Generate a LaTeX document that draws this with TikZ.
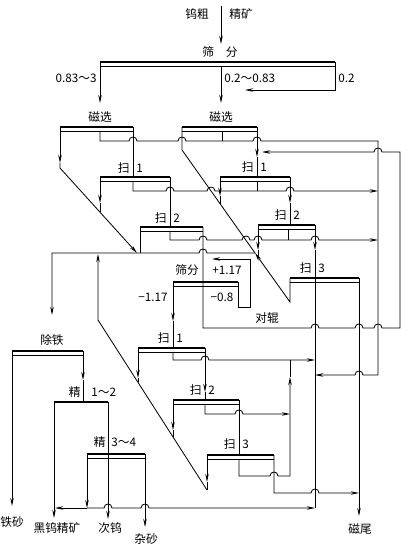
\documentclass[tikz,border=0pt]{standalone}
\usepackage{fontspec}
\newfontfamily\cjk{Noto Sans CJK SC}
\usetikzlibrary{arrows.meta}

\tikzset{
  flow/.style={line width=0.7pt},
  bar/.style={line width=1.6pt},
  arr/.style={-{Stealth[length=7pt,width=3pt]}},
  lbl/.style={font=\cjk\fontsize{10}{12}\selectfont, inner sep=0pt},
}
% hop over a vertical line (left to right / right to left)
\newcommand\hop[2]{-- (#1-4,#2) .. controls (#1-4,#2-5.3) and (#1+4,#2-5.3) .. (#1+4,#2)}
\newcommand\hopl[2]{-- (#1+4,#2) .. controls (#1+4,#2-5.3) and (#1-4,#2-5.3) .. (#1-4,#2)}
% separator: thick top bar and thin line below
\newcommand\sepbar[3]{\draw[bar] (#1,#3) -- (#2,#3); \draw (#1,#3+4) -- (#2,#3+4);}
% stage label split round its feed line
\newcommand\stagelbl[5]{\node[lbl,anchor=east] (#1a) at (#2-3,#3) {#4};
  \node[lbl,anchor=west] (#1b) at (#2+3,#3) {#5};}

\begin{document}
\begin{tikzpicture}[x=0.03cm,y=-0.03cm,flow]
\useasboundingbox (0,0) rectangle (413,548);

% Feed
\node[lbl] (feedA) at (197,14) {钨粗};
\node[lbl] (feedB) at (241,14) {精矿};
\draw[arr] (221,6) -- (221,44);

% Main screen
\node[lbl] (scr) at (220,52) {筛\hspace{1em}分};
\sepbar{100}{335}{62}
\draw[arr] (100,62) -- (100,103);
\draw[arr] (221,66) -- (221,103);
\draw[arr] (335,62) -- (335,90) -- (245,90);
\node[lbl,anchor=east] (fracA) at (97,78) {0.83～3};
\node[lbl,anchor=west] (fracB) at (224,78) {0.2～0.83};
\node[lbl,anchor=west] (fracC) at (338,78) {0.2};

% Magnetic separators
\node[lbl] (magL) at (100,117) {磁选};
\node[lbl] (magR) at (221,117) {磁选};
\sepbar{60}{133}{127}
\sepbar{182}{257}{127}
\draw[arr] (60,127) -- (60,163);
\draw[arr] (60,163) -- (60,168) -- (137,253);
\draw (182,127) -- (182,150) -- (255,253);
\draw (222,131) -- (222,141);
\draw (133,127) -- (133,177);
\draw[arr] (257,127) -- (257,157);
\draw (257,157) -- (257,177);
% tails to the right-hand collector
\draw[arr] (100,131) -- (100,141) \hop{133}{141} \hop{182}{141} \hop{257}{141}
  -- (378,141) -- (378,375) \hopl{359}{375} -- (315,375);

% Upper scavengers, left
\sepbar{100}{170}{177}
\stagelbl{sL1}{133}{168}{扫}{1}
\draw[arr] (100,177) -- (100,203);
\draw (100,203) -- (100,211.6);
\draw (257,181) -- (257,191);
\draw[arr] (133,181) -- (133,191) \hop{170}{191} \hop{211}{191} \hop{290}{191} -- (378,191);
\draw (170,177) -- (170,227);
\stagelbl{sL2}{170}{218}{扫}{2}
\sepbar{140}{203}{227}
\draw (140,227) -- (140,253);
\draw (288,229) -- (288,240);
\draw[arr] (170,231) -- (170,240) \hop{203}{240} \hop{246}{240} \hop{258}{240}
  \hop{315}{240} -- (378,240);

% Upper scavengers, right
\sepbar{220}{290}{177}
\stagelbl{sR1}{257}{167}{扫}{1}
\draw[arr] (220,177) -- (220,196);
\draw (220,196) -- (220,203.5);
\draw[arr] (290,177) -- (290,203);
\draw (290,203) -- (290,225);
\stagelbl{sR2}{290}{215}{扫}{2}
\sepbar{258}{315}{225}
\draw[arr] (258,225) -- (258,250);
\draw (258,250) -- (258,257);
\draw[arr] (315,225) -- (315,250);
\draw (315,250) -- (315,508);
\stagelbl{sR3}{315}{268}{扫}{3}
\sepbar{290}{359}{278}
\draw[arr] (290,278) -- (290,302) -- (255,253);
\draw[arr] (359,278) -- (359,516);
\node[lbl] (magT) at (360,529) {磁尾};

% Concentrate collector
\draw[arr] (255,253) \hopl{203}{253} -- (52,253) -- (52,315);

% Pair rolls and return
\draw[arr] (203,227) -- (203,328) \hop{315}{328} \hop{359}{328} \hop{378}{328}
  -- (400,328) -- (400,152) \hopl{378}{152} -- (262,152);
\node[lbl] (roll) at (267,318) {对辊};

% Small screen
\node[lbl] (scrS) at (187,270) {筛分};
\node[lbl] (plus) at (227,270) {+1.17};
\sepbar{173}{238}{282}
\draw[arr] (173,282) -- (173,321);
\draw (173,321) -- (173,348);
\node[lbl,anchor=east] (minA) at (168,297) {−1.17};
\node[lbl] (minB) at (222,297) {−0.8};
\draw[arr] (238,282) -- (238,307) -- (250,307) -- (250,259) -- (212,259);

% Lower scavengers
\sepbar{138}{205}{348}
\stagelbl{sD1}{173}{338}{扫}{1}
\draw[arr] (138,348) -- (138,378);
\draw (138,378) -- (138,382.4);
\draw[arr] (173,352) -- (173,360) \hop{205}{360} -- (315,360);
\draw[arr] (205,348) -- (205,392);
\draw (205,392) -- (205,400);
\stagelbl{sD2}{205}{390}{扫}{2}
\sepbar{173}{239}{400}
\draw[arr] (173,400) -- (173,430);
\draw (173,430) -- (173,437);
\draw[arr] (205,404) -- (205,414) \hop{239}{414} -- (290,414);
\draw (239,400) -- (239,455);
\stagelbl{sD3}{239}{444}{扫}{3}
\sepbar{207}{274}{455}
\draw[arr] (239,459) -- (239,476) \hop{274}{476} -- (290,476) -- (290,377);
\draw (290,377) -- (290,360);
\draw[arr] (274,455) -- (274,493) \hop{315}{493} -- (359,493);
\draw[arr] (207,455) -- (207,482);
\draw (207,482) -- (207,490);
\draw[arr] (207,490) -- (98,320) -- (98,254);

% Iron removal
\node[lbl] (fe) at (52,340) {除铁};
\sepbar{12}{83}{351}
\draw[arr] (12,351) -- (12,506);
\node[lbl] (feS) at (12,522) {铁砂};
\draw[arr] (83,351) -- (83,380);
\draw (83,380) -- (83,402);

% Cleaning
\node[lbl,anchor=east] (cl1a) at (81,392) {精};
\node[lbl,anchor=west] (cl1b) at (91,392) {1～2};
\draw[bar] (54,402) -- (108,402);
\draw[arr] (54,402) -- (54,518);
\node[lbl] (conc) at (57,528) {黑钨精矿};
\draw[arr] (108,402) -- (108,519);
\node[lbl] (midW) at (110,528) {次钨};
\node[lbl,anchor=east] (cl2a) at (106,442) {精};
\node[lbl,anchor=west] (cl2b) at (111,442) {3～4};
\sepbar{87}{145}{454}
\draw[arr] (87,454) -- (87,508);
\draw[arr] (145,454) -- (145,527);
\node[lbl] (sand) at (146,539) {杂砂};
\draw[arr] (87,508) -- (55,508);
\draw[arr] (87,508) \hop{108}{508} \hop{145}{508} -- (315,508);

\end{tikzpicture}
\end{document}
